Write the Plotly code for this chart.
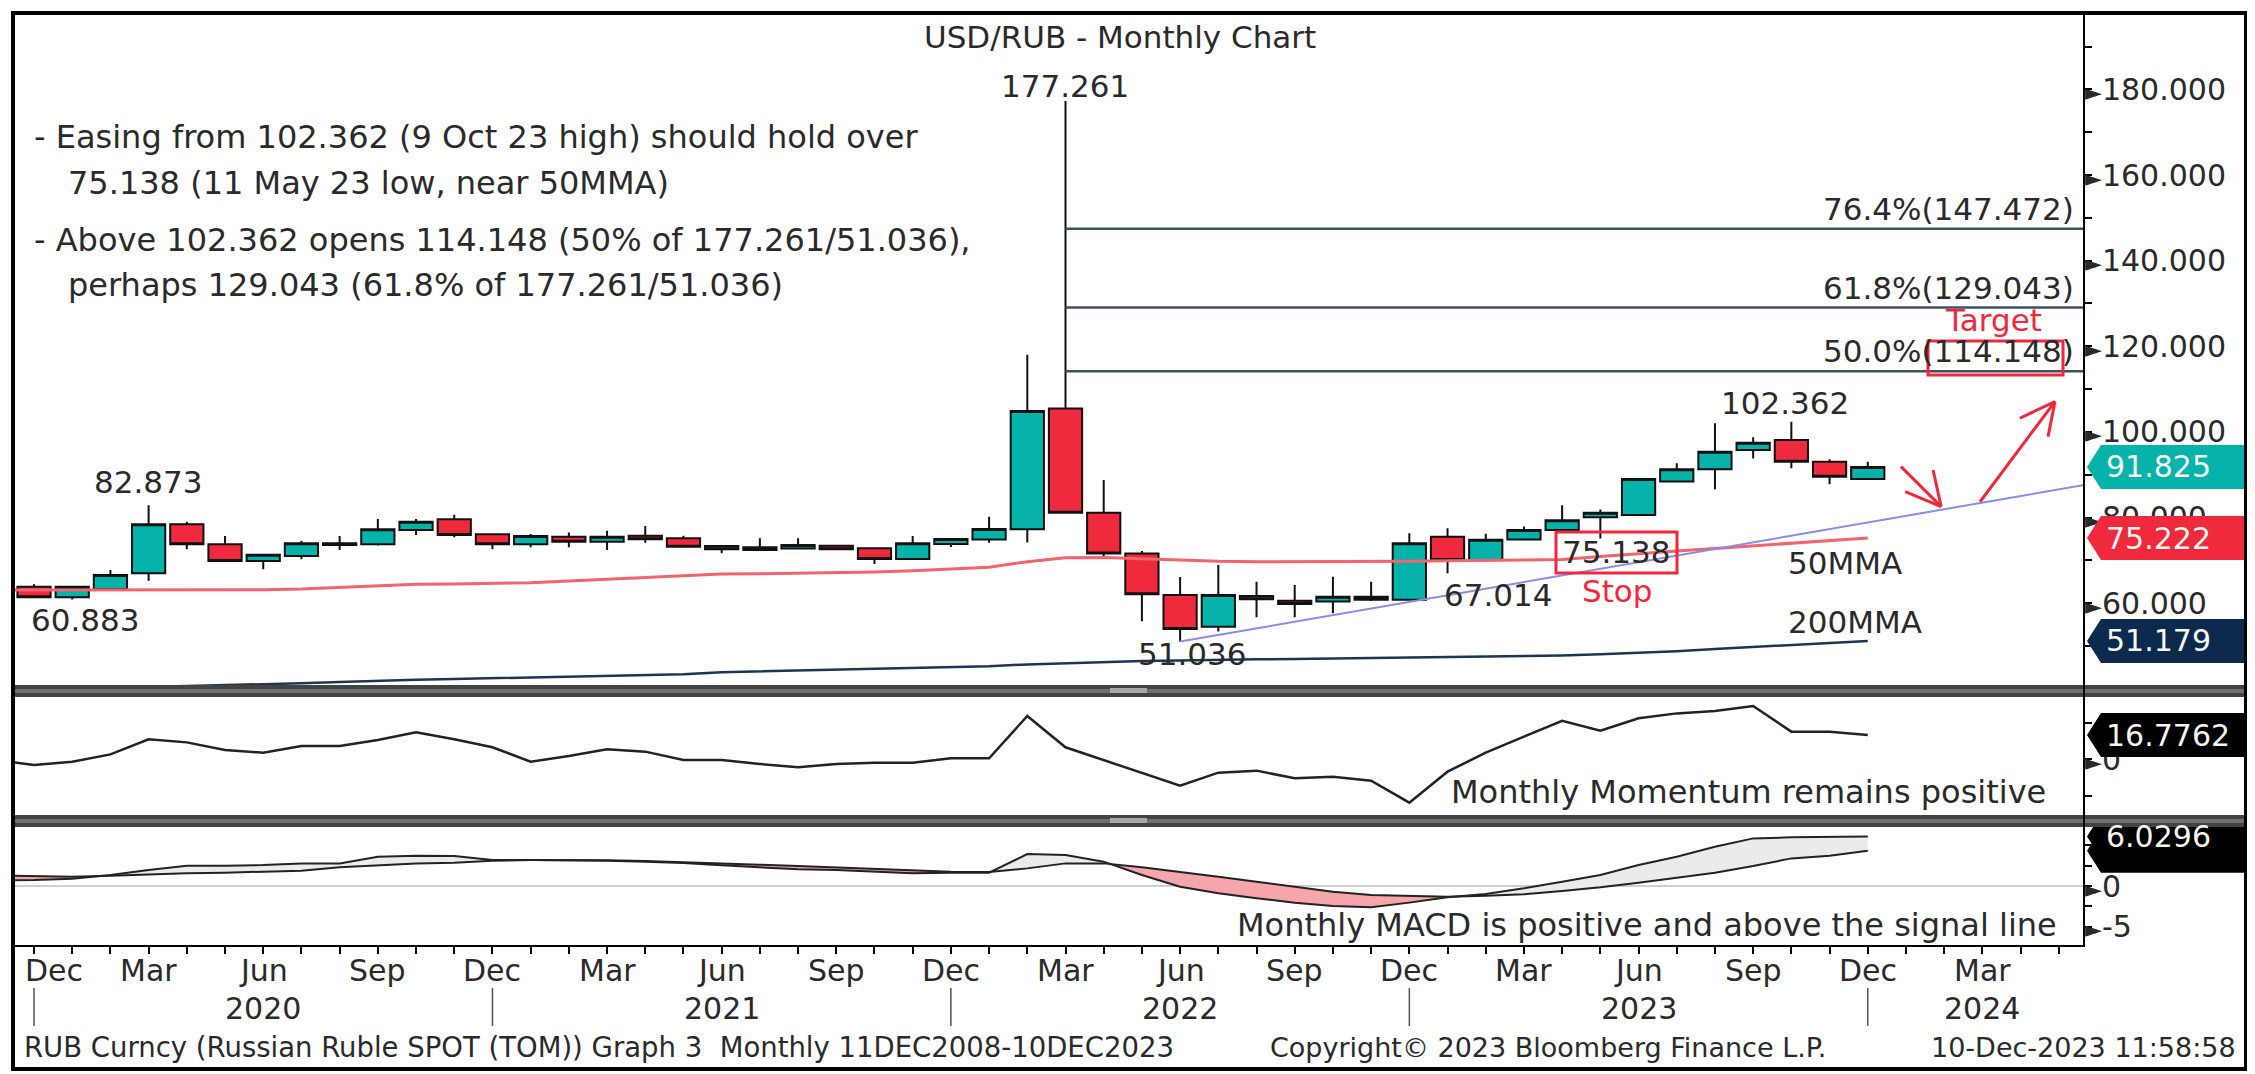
import plotly.graph_objects as go

# ---------------- data ----------------
# monthly bars: index 0 = Dec 2019 ... 48 = Dec 2023
bar_idx = list(range(0, 49))
bar_open = [63.87, 61.39, 63.33, 67.00, 78.43, 73.77, 69.87, 71.03, 74.00, 73.77,
            77.10, 79.60, 76.10, 73.77, 75.54, 74.37, 75.77, 75.17, 73.37, 72.44,
            72.80, 73.44, 72.83, 70.33, 73.84, 74.85, 77.30, 105.50, 81.15, 71.60,
            61.93, 54.50, 61.70, 60.60, 60.40, 61.50, 60.80, 75.55, 70.10, 74.90,
            77.10, 80.10, 80.60, 88.40, 91.30, 95.80, 98.10, 93.05, 89.00]
bar_high = [64.43, 63.90, 67.76, 82.873, 79.04, 75.70, 71.50, 74.60, 75.70, 79.68,
            79.68, 80.68, 76.30, 76.17, 76.50, 76.93, 78.04, 75.77, 73.50, 75.17,
            75.17, 73.60, 73.00, 75.70, 75.17, 80.20, 118.00, 177.261, 88.80, 72.20,
            66.13, 68.90, 65.04, 64.26, 66.20, 65.00, 76.33, 77.50, 76.20, 77.90,
            82.90, 81.90, 89.10, 92.70, 102.00, 98.75, 102.362, 93.60, 93.05]
bar_low = [61.30, 60.883, 63.10, 65.27, 72.60, 69.80, 67.93, 70.26, 72.40, 73.50,
           75.94, 75.40, 72.60, 73.07, 73.07, 72.44, 74.14, 73.10, 71.67, 72.40,
           72.70, 72.50, 69.17, 70.20, 73.10, 74.10, 74.20, 81.00, 70.60, 55.80,
           51.036, 53.40, 56.70, 56.70, 57.65, 60.50, 60.60, 67.014, 69.70, 74.70,
           77.00, 75.138, 80.40, 88.30, 86.60, 93.80, 91.50, 87.80, 88.90]
bar_close = [61.39, 63.87, 66.60, 78.43, 73.77, 69.87, 71.30, 74.00, 73.60, 77.27,
             79.04, 75.94, 73.77, 75.70, 74.37, 75.50, 74.93, 73.20, 72.60, 73.07,
             73.60, 72.60, 70.33, 74.00, 75.00, 77.34, 104.90, 81.15, 71.60, 62.10,
             54.00, 61.93, 60.90, 59.80, 61.50, 60.80, 74.00, 70.10, 74.80, 77.10,
             79.40, 81.10, 89.00, 91.30, 95.40, 97.50, 93.05, 89.55, 91.825]

# indicator lines start one month earlier (Nov 2019) so they reach the left edge
ind_idx = list(range(-1, 49))
ma50 = [63.1, 63.1, 63.1, 63.1, 63.1, 63.1, 63.1, 63.15, 63.3, 63.7,
        64.1, 64.4, 64.5, 64.6, 64.8, 65.2, 65.6, 66.0, 66.5, 66.8,
        66.9, 67.0, 67.15, 67.3, 67.6, 68.0, 68.4, 69.7, 70.6, 70.7,
        70.4, 70.0, 69.8, 69.7, 69.7, 69.7, 69.7, 69.8, 69.9, 70.0,
        70.0, 70.2, 70.9, 71.6, 72.2, 72.8, 73.4, 74.0, 74.6, 75.222]
ma200 = [39.6, 39.8, 40.0, 40.2, 40.4, 40.6, 40.8, 41.0, 41.3, 41.6,
         41.9, 42.1, 42.3, 42.5, 42.6, 42.8, 43.0, 43.2, 43.4, 43.9,
         44.1, 44.3, 44.5, 44.7, 44.8, 45.0, 45.3, 45.7, 46.0, 46.3,
         46.5, 46.6, 46.8, 46.9, 47.0, 47.1, 47.2, 47.3, 47.4, 47.5,
         47.6, 47.8, 48.1, 48.4, 48.8, 49.3, 49.8, 50.3, 50.8, 51.179]
momentum = [-0.5, -3.9, -1.6, 3.4, 13.8, 11.7, 6.4, 4.6, 9.2, 9.2,
            13.3, 18.6, 13.8, 8.3, -1.6, 2.3, 6.9, 5.3, -0.5, -0.5,
            -3.2, -5.5, -3.2, -2.3, -2.3, 0.7, 0.7, 29.9, 8.3, -0.5,
            -9.7, -18.2, -9.2, -7.8, -13.1, -12.0, -14.7, -29.9, -8.5, 4.6,
            15.6, 26.6, 19.7, 28.3, 31.7, 33.3, 36.8, 19.1, 19.1, 16.7762]
macd = [0.70, 0.73, 0.89, 1.34, 1.95, 2.48, 2.48, 2.56, 2.76, 2.76,
        3.58, 3.70, 3.66, 3.17, 3.17, 3.17, 3.09, 2.97, 2.80, 2.52,
        2.24, 2.03, 1.95, 1.75, 1.55, 1.63, 1.63, 3.90, 3.78, 2.97,
        1.34, -0.08, -0.89, -1.50, -2.03, -2.44, -2.60, -2.03, -1.38, -0.98,
        -0.28, 0.53, 1.34, 2.56, 3.58, 4.80, 5.81, 5.94, 5.98, 6.0296]
macd_signal = [1.30, 1.22, 1.14, 1.26, 1.42, 1.55, 1.63, 1.75, 1.87, 2.28,
               2.56, 2.76, 2.85, 3.09, 3.17, 3.17, 3.13, 3.05, 2.93, 2.76,
               2.60, 2.44, 2.28, 2.07, 1.91, 1.75, 1.71, 2.15, 2.76, 2.76,
               2.28, 1.75, 1.14, 0.53, -0.08, -0.69, -1.10, -1.22, -1.30, -1.18,
               -1.02, -0.61, -0.16, 0.41, 1.02, 1.63, 2.44, 3.37, 3.70, 4.31]

# axis ticks
month_tick_idx = list(range(0, 52, 3))
month_tick_text = ['Dec', 'Mar', 'Jun', 'Sep'] * 4 + ['Dec', 'Mar']
year_labels = ['2020', '2021', '2022', '2023', '2024']
year_label_idx = [6, 18, 30, 42, 51]
year_break_idx = [0, 12, 24, 36, 48]
price_ticks = [60, 80, 100, 120, 140, 160, 180]
mom_ticks = [0]
macd_ticks = [0, -5]

# Fibonacci retracement of the Mar-22 high / Jun-22 low
swing_high_idx, swing_low_idx = 27, 30
fib_ratios = [0.5, 0.618, 0.764]

# rising support line drawn from the Jun-22 low
trend_idx = [30, 53.66]
trend_val = [51.036, 87.6]

# ---------------- layout geometry (page pixels; page has an 8px body margin) ----------------
OFF = 8
W, H = 2255 - OFF, 1074 - OFF
PLOT_L, PLOT_R, PLOT_T, PLOT_B = 13, 2084, 14, 945      # plot area in page pixels
ML, MT = PLOT_L - OFF, PLOT_T - OFF
MR, MB = W - (PLOT_R - OFF), H - (PLOT_B - OFF)
PW, PH = PLOT_R - PLOT_L, PLOT_B - PLOT_T
X_RANGE = [-0.55, 53.66]
Y1_RANGE = [40.9, 197.6]
Y2_RANGE = [-38.4, 43.0]
Y3_RANGE = [-7.2, 7.2]


def px(x):
    return (x - PLOT_L) / PW


def py(y):
    return (PLOT_B - y) / PH


FONT = 'DejaVu Sans'
TXT = '#2a2a2a'
TEAL = '#06b3ab'
RED = '#ee2a3c'
ARROW_RED = '#f0283c'
NAVY = '#0b2a4d'

fig = go.Figure()

# ---------------- main panel ----------------
fig.add_trace(go.Scatter(x=ind_idx, y=ma200, mode='lines', line=dict(color='#1c3552', width=2.5),
                         xaxis='x', yaxis='y', hoverinfo='skip'))
fig.add_trace(go.Scatter(x=ind_idx, y=ma50, mode='lines', line=dict(color='#f2646e', width=3),
                         xaxis='x', yaxis='y', hoverinfo='skip'))
fig.add_trace(go.Scatter(x=trend_idx, y=trend_val, mode='lines', line=dict(color='#8c8ce8', width=2),
                         xaxis='x', yaxis='y', hoverinfo='skip'))
fig.add_trace(go.Candlestick(
    x=bar_idx, open=bar_open, high=bar_high, low=bar_low, close=bar_close,
    increasing=dict(fillcolor=TEAL, line=dict(color='#111111', width=2)),
    decreasing=dict(fillcolor=RED, line=dict(color='#111111', width=2)),
    whiskerwidth=0, xaxis='x', yaxis='y', hoverinfo='skip'))

# ---------------- momentum panel ----------------
fig.add_trace(go.Scatter(x=ind_idx, y=momentum, mode='lines', line=dict(color='#222222', width=2.5),
                         xaxis='x', yaxis='y2', hoverinfo='skip'))

# ---------------- MACD panel ----------------
def split_fill(xs, a, b):
    polys = []
    cx, ca, cb = [xs[0]], [a[0]], [b[0]]
    sign = a[0] >= b[0]
    for k in range(1, len(xs)):
        s = a[k] >= b[k]
        if s != sign:
            d0, d1 = a[k - 1] - b[k - 1], a[k] - b[k]
            t = d0 / (d0 - d1)
            xc = xs[k - 1] + t * (xs[k] - xs[k - 1])
            yc = a[k - 1] + t * (a[k] - a[k - 1])
            cx.append(xc); ca.append(yc); cb.append(yc)
            polys.append((cx, ca, cb, sign))
            cx, ca, cb = [xc], [yc], [yc]
            sign = s
        cx.append(xs[k]); ca.append(a[k]); cb.append(b[k])
    polys.append((cx, ca, cb, sign))
    return polys


for cx, ca, cb, pos in split_fill(ind_idx, macd, macd_signal):
    fig.add_trace(go.Scatter(x=cx + cx[::-1], y=ca + cb[::-1], mode='lines', fill='toself',
                             fillcolor='#ebebeb' if pos else '#f6a5ab', line=dict(width=0),
                             xaxis='x', yaxis='y3', hoverinfo='skip'))
fig.add_trace(go.Scatter(x=ind_idx, y=macd_signal, mode='lines', line=dict(color='#222222', width=2),
                         xaxis='x', yaxis='y3', hoverinfo='skip'))
fig.add_trace(go.Scatter(x=ind_idx, y=macd, mode='lines', line=dict(color='#222222', width=2),
                         xaxis='x', yaxis='y3', hoverinfo='skip'))

# ---------------- axes ----------------
tri = '<span style="font-size:22px">\u25ba</span>'
tick_font = dict(family=FONT, size=30, color=TXT)

fig.update_layout(
    width=W, height=H,
    margin=dict(l=ML, r=MR, t=MT, b=MB, autoexpand=False),
    paper_bgcolor='white', plot_bgcolor='white',
    showlegend=False, hovermode=False,
    boxgap=0.13, boxgroupgap=0,
    font=dict(family=FONT, size=30, color=TXT),
    xaxis=dict(domain=[0, 1], range=X_RANGE, anchor='y3', rangeslider=dict(visible=False),
               showgrid=False, zeroline=False, showline=True, linecolor='black', linewidth=2,
               tickmode='array', tickvals=month_tick_idx, showticklabels=False,
               ticks='outside', ticklen=7, tickwidth=2, tickcolor='black',
               minor=dict(tickmode='array', tickvals=list(range(0, 54)), ticks='outside',
                          ticklen=7, tickwidth=2, tickcolor='black')),
    yaxis=dict(domain=[py(685), 1], range=Y1_RANGE, anchor='x', side='right',
               showgrid=False, zeroline=False, showline=False,
               tickmode='array', tickvals=price_ticks,
               ticktext=[tri + f'{v:.3f}' for v in price_ticks],
               ticks='', tickfont=tick_font, ticklabelstandoff=0,
               minor=dict(dtick=10, tick0=0, ticks='outside', ticklen=7, tickwidth=2, tickcolor='black')),
    yaxis2=dict(domain=[py(815), py(697)], range=Y2_RANGE, anchor='x', side='right',
                showgrid=False, zeroline=False, showline=False,
                tickmode='array', tickvals=mom_ticks, ticktext=[tri + '0'],
                ticks='', tickfont=tick_font, ticklabelstandoff=0,
                minor=dict(dtick=25, tick0=0, ticks='outside', ticklen=7, tickwidth=2, tickcolor='black')),
    yaxis3=dict(domain=[0, py(827)], range=Y3_RANGE, anchor='x', side='right',
                showgrid=False, zeroline=True, zerolinecolor='#cfcfcf', zerolinewidth=2, showline=False,
                tickmode='array', tickvals=macd_ticks, ticktext=[tri + str(v) for v in macd_ticks],
                ticks='', tickfont=tick_font, ticklabelstandoff=0,
                minor=dict(dtick=2.5, tick0=0, ticks='outside', ticklen=7, tickwidth=2, tickcolor='black')),
)

# ---------------- shapes ----------------
shapes = []

# Fibonacci lines
swing_high = bar_high[swing_high_idx]
swing_low = bar_low[swing_low_idx]
fib_levels = [swing_low + r * (swing_high - swing_low) for r in fib_ratios]
for lvl in fib_levels:
    shapes.append(dict(type='line', xref='x', yref='y', x0=swing_high_idx, x1=X_RANGE[1],
                       y0=lvl, y1=lvl, line=dict(color='#3c5066', width=2.5), layer='above'))

# hand-drawn arrows (down to the support line, then up toward target)
arrows = [
    [(48.87, 91.9), (49.92, 82.55)], [(49.92, 82.55), (49.71, 91.1)], [(49.92, 82.55), (48.98, 86.05)],
    [(50.94, 83.7), (52.90, 107.1)], [(52.90, 107.1), (51.98, 103.2)], [(52.90, 107.1), (52.72, 98.9)],
]
for (xa, ya), (xb, yb) in arrows:
    shapes.append(dict(type='line', xref='x', yref='y', x0=xa, y0=ya, x1=xb, y1=yb,
                       line=dict(color=ARROW_RED, width=3), layer='above'))

# red boxes
shapes.append(dict(type='rect', xref='paper', yref='paper', x0=px(1928), x1=px(2063), y0=py(375), y1=py(341),
                   line=dict(color=ARROW_RED, width=3), layer='above'))
shapes.append(dict(type='rect', xref='paper', yref='paper', x0=px(1556), x1=px(1677), y0=py(573), y1=py(532),
                   line=dict(color=ARROW_RED, width=3), layer='above'))

# value tags on the right axis
def tag_path(yc, half):
    xt, xb, xr = px(2087), px(2101), px(2246)
    return (f'M {xt},{yc} L {xb},{yc + half} L {xr},{yc + half} '
            f'L {xr},{yc - half} L {xb},{yc - half} Z')


ppu1 = (685 - 14) / (Y1_RANGE[1] - Y1_RANGE[0])
ppu2 = (815 - 697) / (Y2_RANGE[1] - Y2_RANGE[0])
ppu3 = (945 - 827) / (Y3_RANGE[1] - Y3_RANGE[0])
tags = [
    ('y', bar_close[-1], ppu1, TEAL),
    ('y', ma50[-1], ppu1, RED),
    ('y', ma200[-1], ppu1, NAVY),
    ('y2', momentum[-1], ppu2, '#000000'),
    ('y3', macd_signal[-1], ppu3, '#000000'),
    ('y3', macd[-1], ppu3, '#000000'),
]
for yr, val, ppu, col in tags:
    shapes.append(dict(type='path', xref='paper', yref=yr, path=tag_path(val, 22 / ppu),
                       fillcolor=col, line=dict(width=0), layer='above'))

# panel separators
for top, bot in [(685, 697), (815, 827)]:
    shapes.append(dict(type='rect', xref='paper', yref='paper', x0=px(13), x1=px(2246), y0=py(bot), y1=py(top),
                       fillcolor='#434343', line=dict(width=0), layer='above'))
    shapes.append(dict(type='rect', xref='paper', yref='paper', x0=px(13), x1=px(2246),
                       y0=py(top + 8), y1=py(top + 4), fillcolor='#6f6f6f', line=dict(width=0), layer='above'))
    shapes.append(dict(type='rect', xref='paper', yref='paper', x0=px(1110), x1=px(1147),
                       y0=py(top + 8), y1=py(top + 3), fillcolor='#a8a8a8', line=dict(width=0), layer='above'))

# right axis line
shapes.append(dict(type='line', xref='paper', yref='paper', x0=px(2084), x1=px(2084), y0=py(947), y1=py(14),
                   line=dict(color='black', width=2), layer='above'))

# year separators below the month labels
for k in year_break_idx:
    shapes.append(dict(type='line', xref='x', yref='paper', x0=k, x1=k, y0=py(1026), y1=py(988),
                       line=dict(color='#555555', width=1.5)))

# outer frame
shapes.append(dict(type='rect', xref='paper', yref='paper', x0=px(13), x1=px(2246), y0=py(1069), y1=py(13),
                   line=dict(color='black', width=4), layer='above'))

# ---------------- annotations ----------------
ann = []


def text(x, y, s, size=31, color=TXT, xanchor='center', yanchor='middle'):
    ann.append(dict(xref='paper', yref='paper', x=px(x), y=py(y), text=s, showarrow=False,
                    font=dict(family=FONT, size=size, color=color), xanchor=xanchor, yanchor=yanchor))


text(1120, 37, 'USD/RUB - Monthly Chart')
text(32, 137, '- Easing from 102.362 (9 Oct 23 high) should hold over', size=32, xanchor='left')
text(66, 183, '75.138 (11 May 23 low, near 50MMA)', size=32, xanchor='left')
text(32, 240, '- Above 102.362 opens 114.148 (50% of 177.261/51.036),', size=32, xanchor='left')
text(66, 285, 'perhaps 129.043 (61.8% of 177.261/51.036)', size=32, xanchor='left')

text(1065, 86, f'{bar_high[27]:.3f}')
text(148, 482, f'{bar_high[3]:.3f}')
text(85, 620, f'{bar_low[1]:.3f}')
text(1192, 654, f'{bar_low[30]:.3f}')
text(1498, 595, f'{bar_low[37]:.3f}')
text(1785, 403, f'{bar_high[46]:.3f}')
text(1616, 552, f'{bar_low[41]:.3f}')
text(1617, 591, 'Stop', color=ARROW_RED)
text(1786, 563, '50MMA', xanchor='left')
text(1786, 622, '200MMA', xanchor='left')
text(1993, 320, 'Target', color=ARROW_RED)

for r, lvl in zip(fib_ratios, fib_levels):
    ann.append(dict(xref='paper', yref='y', x=px(2076), y=lvl, xanchor='right', yanchor='bottom',
                    text=f'{r * 100:.1f}%({lvl - 1e-9:.3f})', showarrow=False,
                    font=dict(family=FONT, size=31, color=TXT)))

for yr, val, fmt in [('y', bar_close[-1], '{:.3f}'), ('y', ma50[-1], '{:.3f}'), ('y', ma200[-1], '{:.3f}'),
                     ('y2', momentum[-1], '{:.4f}'), ('y3', macd[-1], '{:.4f}')]:
    ann.append(dict(xref='paper', yref=yr, x=px(2104), y=val, xanchor='left', yanchor='middle',
                    text=fmt.format(val), showarrow=False, font=dict(family=FONT, size=30, color='#f6f6ee')))

text(2048, 792, 'Monthly Momentum remains positive', size=32, xanchor='right')
text(2059, 925, 'Monthly MACD is positive and above the signal line', size=32, xanchor='right')

# month labels (first one nudged right so it stays inside the frame)
for k, lab in zip(month_tick_idx, month_tick_text):
    ann.append(dict(xref='x', yref='paper', x=k, y=py(970), text=lab, showarrow=False,
                    xshift=20 if k == 0 else 0, xanchor='center', yanchor='middle',
                    font=dict(family=FONT, size=30, color=TXT)))

for lab, k in zip(year_labels, year_label_idx):
    ann.append(dict(xref='x', yref='paper', x=k, y=py(1008), text=lab, showarrow=False,
                    xanchor='center', yanchor='middle',
                    font=dict(family=FONT, size=30, color=TXT)))

text(22, 1047, 'RUB Curncy (Russian Ruble SPOT (TOM)) Graph 3\u00a0\u00a0Monthly 11DEC2008-10DEC2023',
     size=27.5, xanchor='left')
text(1548, 1047, 'Copyright\u00a9 2023 Bloomberg Finance L.P.', size=27)
text(2238, 1047, '10-Dec-2023 11:58:58', size=27, xanchor='right')

fig.update_layout(shapes=shapes, annotations=ann)
fig.write_html('out.html', config={'displayModeBar': False})
